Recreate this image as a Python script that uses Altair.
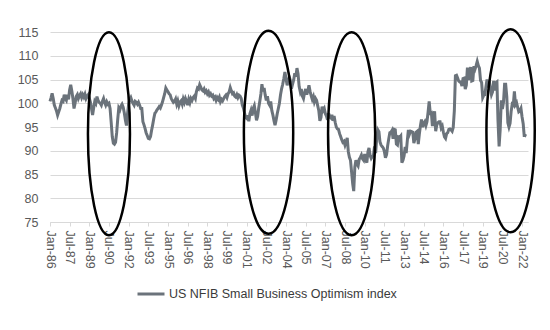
import altair as alt
import pandas as pd

# Monthly values, Jan-1986 .. May-2022
v1986 = [100.4, 101.2, 102.1, 101.0, 99.6, 99.0, 98.4, 97.5, 98.2, 98.9, 99.8, 100.6]
v1987 = [100.4, 101.8, 101.0, 100.6, 101.8, 100.8, 102.8, 103.9, 102.6, 101.0, 98.9, 100.0]
v1988 = [101.4, 101.8, 101.0, 101.6, 102.0, 101.2, 101.8, 101.3, 101.9, 101.0, 101.5, 101.8]
v1989 = [101.0, 100.2, 98.9, 97.5, 99.0, 100.4, 100.0, 101.4, 100.6, 100.2, 100.0, 99.6]
v1990 = [100.4, 101.0, 100.2, 99.6, 100.3, 99.8, 100.0, 98.9, 96.0, 93.0, 91.6, 91.4]
v1991 = [91.8, 93.8, 96.5, 99.0, 98.6, 99.4, 99.8, 99.2, 98.0, 96.5, 95.3, 97.8]
v1992 = [99.8, 100.8, 101.2, 100.5, 100.0, 99.6, 100.4, 100.2, 99.8, 100.2, 99.6, 98.9]
v1993 = [98.9, 96.1, 95.5, 94.7, 93.8, 93.2, 92.6, 92.5, 93.0, 94.3, 95.5, 96.8]
v1994 = [97.9, 98.2, 98.6, 98.9, 99.3, 99.0, 99.6, 100.3, 101.2, 102.0, 103.2, 102.8]
v1995 = [102.4, 102.0, 101.8, 101.0, 100.6, 100.2, 100.4, 100.9, 99.8, 100.5, 99.5, 100.2]
v1996 = [100.5, 99.8, 100.9, 100.2, 101.0, 100.4, 99.6, 100.8, 100.1, 101.0, 100.6, 101.2]
v1997 = [101.5, 101.0, 102.4, 103.2, 103.0, 103.9, 103.4, 102.8, 102.6, 103.0, 102.3, 102.6]
v1998 = [102.0, 102.4, 101.7, 102.0, 101.5, 101.7, 101.0, 101.3, 100.6, 101.2, 100.8, 101.3]
v1999 = [100.3, 100.8, 100.5, 101.0, 101.4, 101.7, 101.2, 102.0, 102.4, 103.3, 102.6, 102.0]
v2000 = [102.2, 101.5, 101.3, 101.8, 101.2, 101.7, 101.5, 101.0, 99.6, 99.0, 98.0, 97.0]
v2001 = [96.8, 97.5, 96.2, 97.8, 98.5, 97.4, 98.9, 99.5, 98.0, 96.4, 97.2, 99.0]
v2002 = [100.4, 102.0, 104.0, 102.5, 103.2, 101.7, 100.6, 101.5, 100.0, 99.6, 100.4, 98.5]
v2003 = [97.5, 96.3, 95.4, 96.5, 97.8, 98.9, 100.0, 101.8, 103.1, 104.0, 105.2, 106.6]
v2004 = [105.2, 103.8, 104.5, 105.5, 104.8, 103.1, 104.0, 104.9, 106.3, 105.6, 107.4, 106.2]
v2005 = [103.5, 102.4, 103.0, 101.5, 101.0, 102.2, 103.0, 101.8, 102.6, 103.8, 102.5, 101.6]
v2006 = [100.8, 101.4, 100.3, 101.0, 100.6, 99.5, 98.5, 96.3, 97.0, 99.3, 98.5, 98.9]
v2007 = [97.8, 97.3, 96.5, 97.9, 97.1, 96.9, 97.6, 96.3, 97.3, 96.0, 95.0, 94.6]
v2008 = [94.5, 93.6, 93.0, 92.3, 91.8, 92.0, 91.2, 91.9, 92.7, 89.8, 88.6, 88.0]
v2009 = [85.5, 83.0, 81.5, 86.6, 88.0, 87.2, 86.8, 88.2, 88.6, 89.1, 88.3, 88.0]
v2010 = [89.3, 88.0, 87.5, 89.8, 90.6, 89.0, 88.4, 88.8, 89.0, 90.9, 89.5, 92.6]
v2011 = [94.4, 94.0, 91.9, 91.2, 90.9, 90.6, 89.9, 88.5, 89.2, 91.0, 92.5, 93.8]
v2012 = [93.9, 94.3, 92.5, 94.5, 94.4, 91.4, 91.2, 92.9, 92.8, 93.1, 87.5, 88.0]
v2013 = [88.9, 90.8, 89.5, 92.1, 94.4, 93.5, 94.1, 94.0, 93.9, 91.6, 92.5, 93.9]
v2014 = [94.1, 91.4, 93.4, 95.2, 96.6, 95.0, 95.7, 96.1, 95.3, 96.1, 98.1, 100.4]
v2015 = [97.9, 98.0, 95.2, 96.9, 98.3, 94.1, 95.4, 95.9, 96.1, 96.1, 94.8, 95.2]
v2016 = [93.9, 92.9, 92.6, 93.6, 93.8, 94.5, 94.6, 94.4, 94.1, 94.9, 98.4, 105.8]
v2017 = [105.9, 105.3, 104.7, 104.5, 104.5, 103.6, 105.2, 105.3, 103.0, 103.8, 107.5, 104.9]
v2018 = [106.9, 107.6, 104.7, 104.8, 107.8, 107.2, 107.9, 108.8, 107.9, 107.4, 104.8, 104.4]
v2019 = [101.2, 101.7, 101.8, 103.5, 105.0, 103.3, 104.7, 103.1, 101.8, 102.4, 104.7, 102.7]
v2020 = [104.3, 104.5, 96.4, 90.9, 94.4, 100.6, 98.8, 100.2, 104.0, 104.0, 101.4, 95.9]
v2021 = [95.0, 95.8, 98.2, 99.8, 99.6, 102.5, 99.7, 100.1, 99.1, 98.2, 98.4, 98.9]
v2022 = [97.1, 95.7, 93.2, 93.2, 93.1]

series_name = "US NFIB Small Business Optimism index"

tick_months = [
    (1986, 1), (1987, 7), (1989, 1), (1990, 7), (1992, 1), (1993, 7), (1995, 1),
    (1996, 7), (1998, 1), (1999, 7), (2001, 1), (2002, 7), (2004, 1), (2005, 7),
    (2007, 1), (2008, 7), (2010, 1), (2011, 7), (2013, 1), (2014, 7), (2016, 1),
    (2017, 7), (2019, 1), (2020, 7), (2022, 1),
]
y_ticks = [75, 80, 85, 90, 95, 100, 105, 110, 115]

# Highlight ellipses (centre date / centre value / width-to-height ratio)
ellipse_ids = ["e1", "e2", "e3", "e4"]
ellipse_dates = ["1990-07-01", "2002-09-01", "2009-01-01", "2021-02-15"]
ellipse_values = [93.6, 93.9, 93.6, 94.2]
ellipse_ratio = [0.207, 0.243, 0.232, 0.238]

years = [v1986, v1987, v1988, v1989, v1990, v1991, v1992, v1993, v1994, v1995,
         v1996, v1997, v1998, v1999, v2000, v2001, v2002, v2003, v2004, v2005,
         v2006, v2007, v2008, v2009, v2010, v2011, v2012, v2013, v2014, v2015,
         v2016, v2017, v2018, v2019, v2020, v2021, v2022]
values = [v for yr in years for v in yr]
dates = pd.date_range("1986-01-01", periods=len(values), freq="MS").strftime("%Y-%m-%d").tolist()

df = pd.DataFrame({"date": dates, "value": values, "series": series_name})
edf = pd.DataFrame({"id": ellipse_ids, "date": ellipse_dates, "value": ellipse_values})
paths = [f"M 0 -1 A {r} 1 0 1 1 0 1 A {r} 1 0 1 1 0 -1 Z" for r in ellipse_ratio]

FONT = "Liberation Sans"
GRID = "#d9d9d9"
LABEL = "#595959"

xscale = alt.Scale(type="utc",
                   domain=[alt.DateTime(year=1986, month=1, date=1, utc=True),
                           alt.DateTime(year=2022, month=6, date=15, utc=True)])
xaxis = alt.Axis(
    title=None,
    values=[alt.DateTime(year=y, month=m, date=1, utc=True) for y, m in tick_months],
    format="%b-%y", labelAngle=90, labelAlign="left", labelBaseline="middle",
    labelFont=FONT, labelFontSize=12.5, labelColor=LABEL, labelPadding=4,
    labelOverlap=False, labelFlush=False,
    domainColor=GRID, domainWidth=1, tickColor=GRID, tickSize=4, grid=False,
)
yscale = alt.Scale(domain=[75, 115], nice=False, zero=False)
yaxis = alt.Axis(
    title=None, values=y_ticks, domain=False, ticks=False,
    grid=True, gridColor=GRID, gridWidth=1, labelOverlap=False,
    labelFont=FONT, labelFontSize=12.5, labelColor=LABEL, labelPadding=12,
)

X = alt.X("date:T", scale=xscale, axis=xaxis)
Y = alt.Y("value:Q", scale=yscale, axis=yaxis)

line = alt.Chart(df).mark_line(strokeWidth=3, clip=False).encode(
    x=X,
    y=Y,
    color=alt.Color("series:N", scale=alt.Scale(range=["#6b737b"]),
                    legend=alt.Legend(orient="none", legendX=86, legendY=247,
                                      title=None, symbolType="stroke",
                                      symbolSize=729, symbolStrokeWidth=3,
                                      labelFont=FONT, labelFontSize=12.5,
                                      labelColor="#3a3a3a", labelOffset=3,
                                      labelLimit=500, padding=0)),
)

ellipses = alt.Chart(edf).mark_point(filled=False, strokeWidth=2.5, opacity=1).encode(
    x=X,
    y=Y,
    shape=alt.Shape("id:N", scale=alt.Scale(domain=ellipse_ids, range=paths), legend=None),
    color=alt.value("black"),
    size=alt.value(41209),
)

chart = alt.layer(line, ellipses).properties(
    width=478, height=190,
    padding={"left": 50, "top": 32, "right": 22, "bottom": 108},
    autosize=alt.AutoSizeParams(type="none"),
).configure_view(stroke=None)

chart.save("out.html", embed_options={"renderer": "svg", "actions": False})
